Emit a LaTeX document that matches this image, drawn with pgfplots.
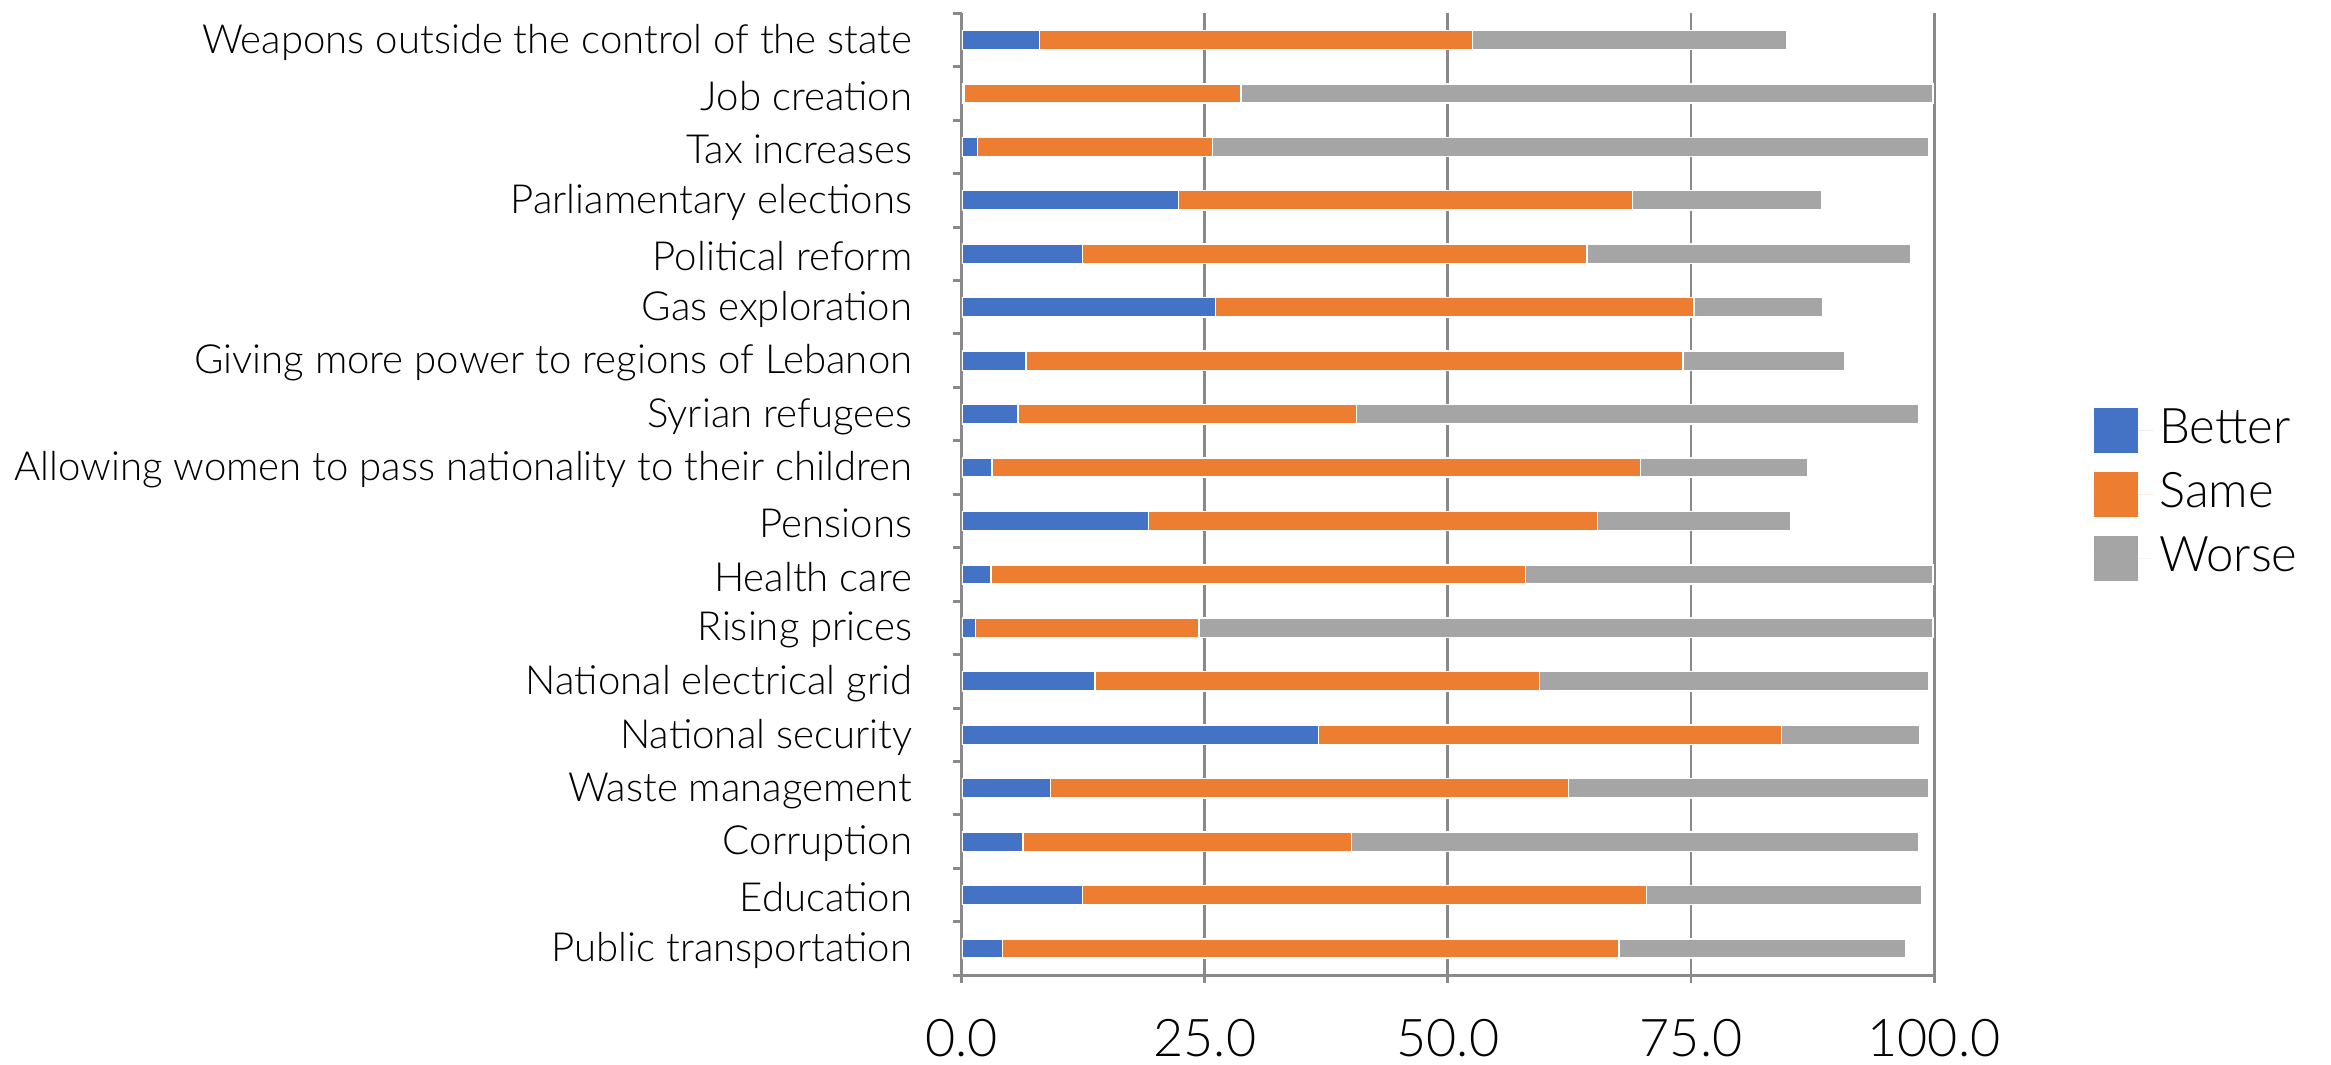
\documentclass[border=0pt]{standalone}
\usepackage{pgfplots}
\usepackage{pgfplotstable}
\pgfplotsset{compat=1.18}
\usepackage{fontspec}
\setmainfont{Lato}[UprightFont=* Light]
\definecolor{cblue}{RGB}{68,114,196}
\definecolor{corange}{RGB}{237,125,49}
\definecolor{cgray}{RGB}{165,165,165}
\definecolor{gridgray}{RGB}{137,137,137}

% y = row from the bottom (1 = Public transportation)
\pgfplotstableread{
y  better same worse
18 8.0  44.5 32.3
17 0.2  28.5 71.2
16 1.6  24.2 73.7
15 22.3 46.7 19.4
14 12.4 51.9 33.3
13 26.1 49.2 13.3
12 6.6  67.6 16.6
11 5.8  34.8 57.8
10 3.1  66.7 17.2
9  19.2 46.2 19.9
8  3.0  55.0 41.9
7  1.4  23.0 75.5
6  13.7 45.7 40.1
5  36.7 47.6 14.2
4  9.1  53.3 37.1
3  6.3  33.8 58.3
2  12.4 58.0 28.3
1  4.2  63.4 29.5
}\survey

\pgfplotsset{
  seg/.style={fill=#1, draw=white, line width=0.5pt,
    legend image code/.code={
      \fill[#1, draw=none] (0pt,-7.5pt) rectangle (15pt,7.5pt);
      \path[draw=none] (0pt,0pt) -- (20pt,0pt);}},
}

\begin{document}
\begin{tikzpicture}
\begin{axis}[
  name=ax, at={(0,0)}, anchor=south west,
  scale only axis, width=327pt, height=323.5pt,
  xbar stacked, bar width=6.5pt,
  xmin=0, xmax=100, ymin=0.5, ymax=18.5,
  axis lines=left,
  x axis line style={-, draw=gridgray, line width=1pt},
  y axis line style={-, draw=gridgray, line width=1pt},
  xmajorgrids, grid style={draw=gridgray, line width=1pt},
  tick align=outside,
  major tick length=2.5pt, minor tick length=2.8pt,
  xtick={0,25,50,75,100},
  xticklabels={0.0,25.0,50.0,75.0,100.0},
  xtick style={draw=gridgray, line width=1pt},
  xticklabel style={font=\fontsize{17.5}{17.5}\selectfont, inner sep=0pt, yshift=-12pt},
  ytick={1,...,18},
  minor ytick={0.5,1.5,...,18.5},
  major y tick style={draw=none},
  minor y tick style={draw=gridgray, line width=1pt},
  yticklabels={Public transportation, Education, Corruption, Waste management,
    National security, National electrical grid, Rising prices, Health care,
    Pensions, Allowing women to pass nationality to their children,
    Syrian refugees, Giving more power to regions of Lebanon, Gas exploration,
    Political reform, Parliamentary elections, Tax increases, Job creation,
    Weapons outside the control of the state},
  yticklabel style={font=\fontsize{13.5}{13.5}\selectfont, inner sep=0pt, xshift=-14pt, yshift=-0.8pt},
  legend style={at={(1.1636,0.5)}, anchor=west, draw=none, fill=none,
    font=\fontsize{16.5}{16.5}\selectfont, inner sep=0pt, row sep=6.5pt,
    nodes={inner ysep=0pt, text height=12pt, text depth=3pt}},
  legend cell align=left,
]
\addplot[seg=cblue] table[x=better, y=y] {\survey};
\addplot[seg=corange] table[x=same, y=y] {\survey};
\addplot[seg=cgray] table[x=worse, y=y] {\survey};
\legend{Better, Same, Worse}
\end{axis}
\pgfresetboundingbox
\path[use as bounding box] ([xshift=-323.5pt,yshift=-30pt]ax.south west)
  rectangle ([xshift=460.5pt,yshift=4.5pt]ax.north west);
\end{tikzpicture}
\end{document}
